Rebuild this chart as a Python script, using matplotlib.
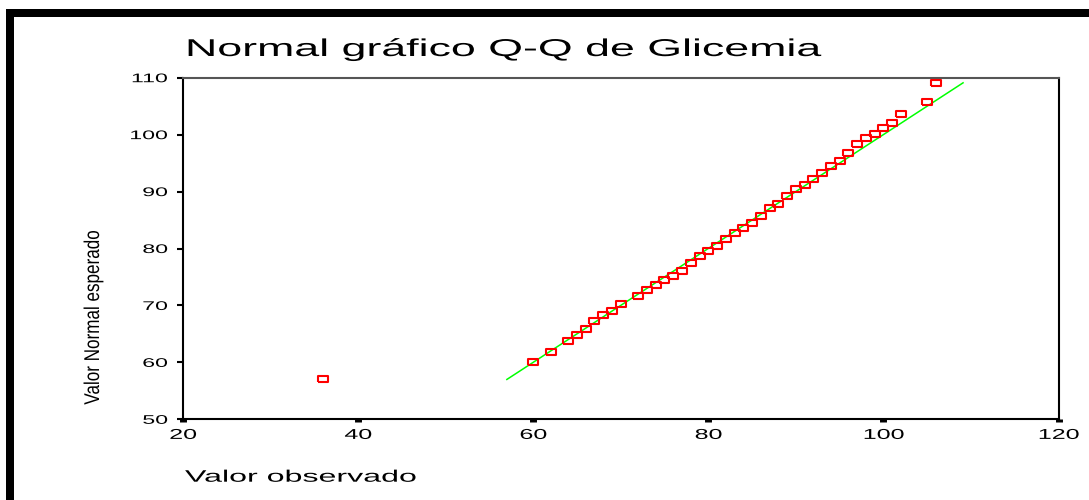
import matplotlib
matplotlib.use("Agg")
import matplotlib.pyplot as plt
from matplotlib.patches import Rectangle
from matplotlib.patheffects import AbstractPathEffect
from matplotlib.transforms import Affine2D

x_obs = [36, 60, 62, 64, 65, 66, 67, 68, 69, 70, 72, 73, 74, 75, 76, 77, 78, 79, 80, 81, 82,
         83, 84, 85, 86, 87, 88, 89, 90, 91, 92, 93, 94, 95, 96, 97, 98, 99, 100, 101, 102, 105, 106]
y_exp = [57.0, 60.1, 61.9, 63.7, 64.75, 65.9, 67.2, 68.3, 69.0, 70.3, 71.7, 72.7, 73.6, 74.4, 75.1,
         76.0, 77.5, 78.6, 79.6, 80.4, 81.6, 82.7, 83.65, 84.5, 85.7, 87.1, 87.9, 89.3, 90.4, 91.2,
         92.2, 93.2, 94.5, 95.4, 96.7, 98.4, 99.4, 100.1, 101.1, 102.0, 103.6, 105.8, 109.1]
x_ticks = [20, 40, 60, 80, 100, 120]
y_ticks = [50, 60, 70, 80, 90, 100, 110]

titulo = "Normal gráfico Q-Q de Glicemia"
x_lab = "Valor observado"
y_lab = "Valor Normal esperado"


# the original picture is stretched sideways, so the text is too
class Stretch(AbstractPathEffect):
    def __init__(self, sx=1.0, sy=1.0, anchor="left"):
        super().__init__()
        self.sx, self.sy, self.anchor = sx, sy, anchor

    def draw_path(self, renderer, gc, tpath, affine, rgbFace=None):
        xs = tpath.vertices[:, 0]
        x0 = 0
        if len(xs) and self.anchor == "center":
            x0 = (xs.min() + xs.max()) / 2
        elif len(xs) and self.anchor == "right":
            x0 = xs.max()
        t = Affine2D().translate(-x0, 0).scale(self.sx, self.sy).translate(x0, 0) + affine
        renderer.draw_path(gc, tpath, t, rgbFace)


W, H = 1089, 500
plt.rcParams['font.family'] = ['Liberation Sans', 'DejaVu Sans']
fig = plt.figure(figsize=(W / 100, H / 100), dpi=100)
fig.patch.set_facecolor("white")

# black frame on top and left side
fig.add_artist(Rectangle((6 / W, 0), 8 / W, 1 - 9 / H, transform=fig.transFigure, color="black", lw=0))
fig.add_artist(Rectangle((6 / W, 1 - 16.7 / H), 1, 7.7 / H, transform=fig.transFigure, color="black", lw=0))

ax = fig.add_axes([182.9 / W, 1 - 419.3 / H, 875.6 / W, 341.6 / H])
ax.plot([min(y_exp), max(y_exp)], [min(y_exp), max(y_exp)], color="#00ff00", lw=1.1, zorder=2)
rect = [(-1, -0.6), (1, -0.6), (1, 0.6), (-1, 0.6), (-1, -0.6)]
ax.plot(x_obs, y_exp, ls="none", marker=rect, ms=7, mfc="none", mec="#ff0000", mew=1.5, zorder=3)

ax.set_xlim(20, 120)
ax.set_ylim(50, 110)
ax.set_xticks(x_ticks)
ax.set_yticks(y_ticks)
ax.set_xticklabels([str(v) for v in x_ticks])
ax.set_yticklabels([str(v) for v in y_ticks])
ax.tick_params(axis="x", direction="out", length=2.2, width=5, pad=4, labelsize=10.3)
ax.tick_params(axis="y", direction="out", length=4, width=1.5, pad=7, labelsize=9)
for lab in ax.get_xticklabels():
    lab.set_path_effects([Stretch(1.75, 1, "center")])
for lab in ax.get_yticklabels():
    lab.set_path_effects([Stretch(1.85, 1, "right")])

for s in ["left", "bottom", "right"]:
    ax.spines[s].set_color("black")
    ax.spines[s].set_linewidth(1.5)
ax.spines["top"].set_color("#555555")
ax.spines["top"].set_linewidth(1.5)

t = fig.text(185 / W, 1 - 56 / H, titulo, fontsize=17.5, ha="left", va="baseline")
t.set_path_effects([Stretch(1.84)])
xl = fig.text(185 / W, 1 - 481.7 / H, x_lab, fontsize=12, ha="left", va="baseline")
xl.set_path_effects([Stretch(1.93)])
yl = fig.text(102 / W, 1 - 317 / H, y_lab, fontsize=12.3, rotation=90, ha="right", va="center")
yl.set_path_effects([Stretch(1.0, 1.25)])

fig.savefig("out.png", dpi=100)
